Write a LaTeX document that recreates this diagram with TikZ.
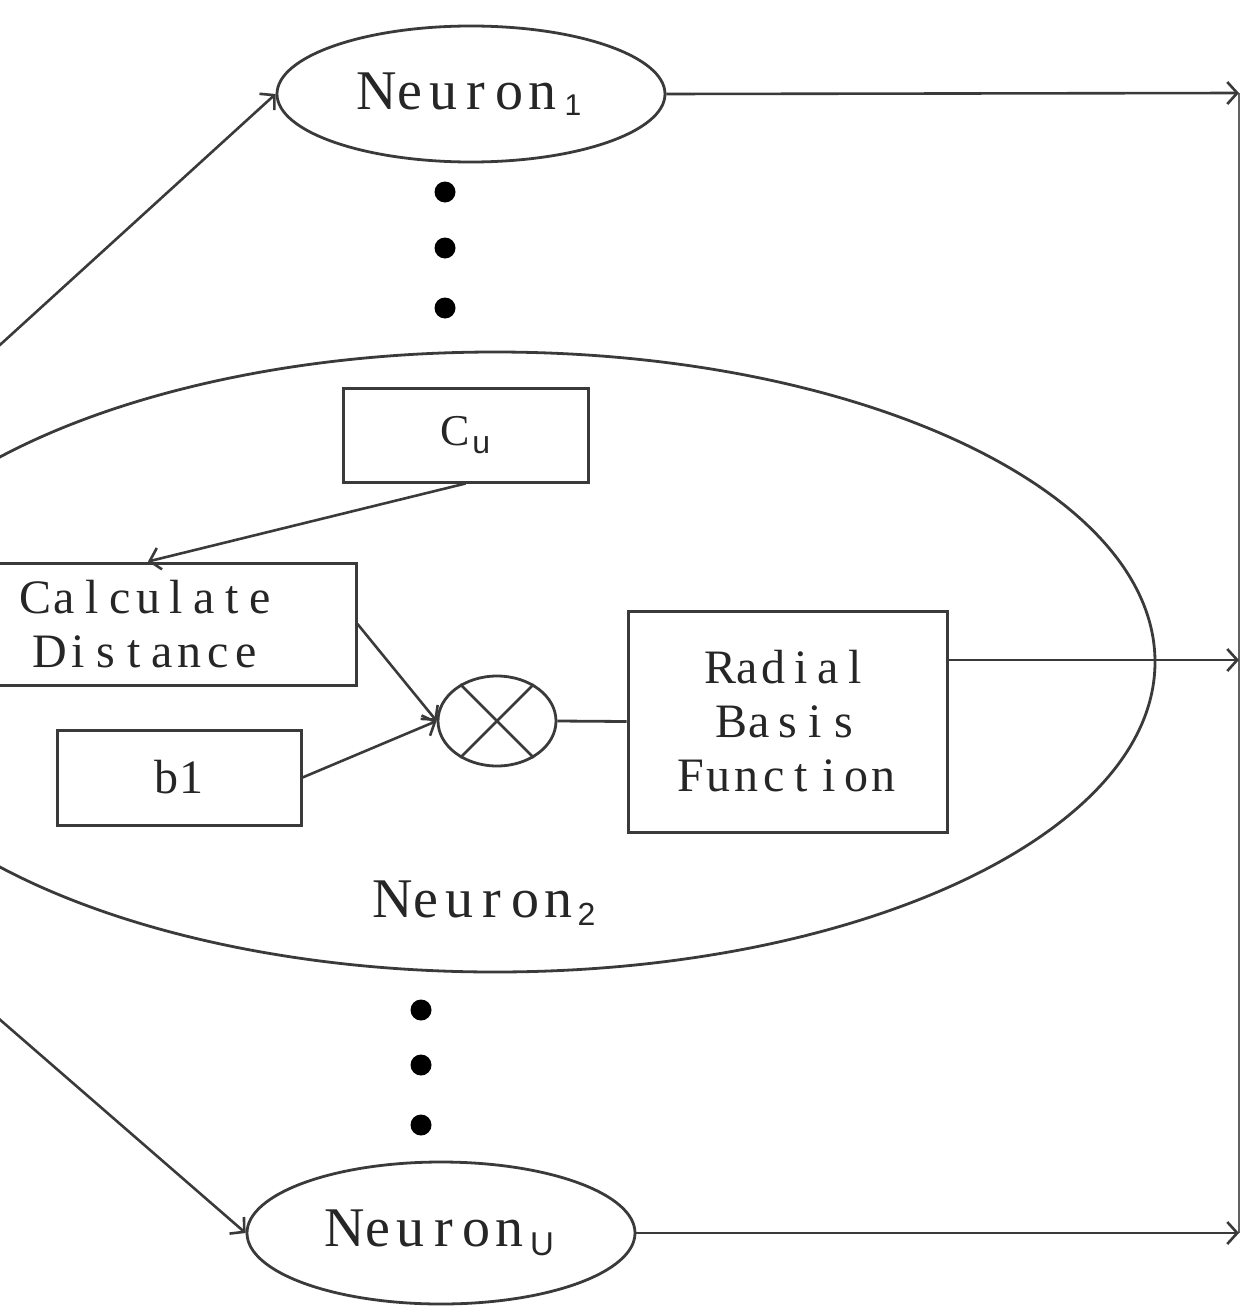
\documentclass[tikz,border=0pt]{standalone}
\usepackage{fontspec}
\setmainfont{Liberation Serif}
\newfontfamily\subsf{Liberation Sans}
\usetikzlibrary{shapes.geometric,arrows.meta}
\makeatletter
\newcommand\mspc[2]{\@tfor\mychr:=#2\do{\makebox[#1][c]{\mychr}}}
\makeatother
\definecolor{lncol}{HTML}{3A3A3A}
\definecolor{txcol}{HTML}{262626}
\begin{document}
\begin{tikzpicture}[x=1pt,y=-1pt,
  every node/.style={text=txcol},
  plainline/.style={draw=lncol, line width=2.8pt},
  thinline/.style={draw=lncol!80, line width=1.6pt},
  box/.style={rectangle, draw=lncol, line width=3pt, inner sep=0pt},
  neu/.style={ellipse, draw=lncol, line width=2.8pt, inner sep=0pt},
  arr/.style={draw=lncol, line width=2.6pt, -{Straight Barb[length=10pt,width=22pt,line width=2.6pt]}},
  bigdot/.style={circle, fill=black, inner sep=0pt, minimum size=21pt},
  lbl/.style={font=\fontsize{56}{60}\selectfont},
  btxt/.style={font=\fontsize{48}{54}\selectfont, align=center},
]
\useasboundingbox (0,0) rectangle (1241,1306);
\clip (0,0) rectangle (1241,1306);

% neurons
\node[neu, lbl, minimum width=388pt, minimum height=136pt] (n1) at (471,94)
  {\mspc{33pt}{Neuron}\hspace{6pt}\raisebox{-6pt}{\subsf\fontsize{30}{30}\selectfont 1}};
\node[neu, minimum width=1320pt, minimum height=620pt] (n2) at (495,662) {};
\node[neu, lbl, minimum width=388pt, minimum height=142pt] (nU) at (441,1233)
  {\mspc{33pt}{Neuron}\hspace{4pt}\raisebox{-9pt}{\subsf\fontsize{33}{33}\selectfont U}};
\node[lbl, anchor=base] (lab2) at (486,917)
  {\mspc{33pt}{Neuron}\hspace{3pt}\raisebox{-8pt}{\subsf\fontsize{32}{32}\selectfont 2}};

% dots
\node[bigdot] (d1) at (445,192) {};
\node[bigdot] (d2) at (445,248) {};
\node[bigdot] (d3) at (445,308) {};
\node[bigdot] (d4) at (421,1010) {};
\node[bigdot] (d5) at (421,1065) {};
\node[bigdot] (d6) at (421,1125) {};

% inner blocks
\node[box, minimum width=245pt, minimum height=94pt, font=\fontsize{44}{48}\selectfont] (cu) at (465.5,435)
  {C\hspace{2pt}\raisebox{-8pt}{\subsf\fontsize{32}{32}\selectfont u}};
\node[box, btxt, minimum width=416pt, minimum height=122pt] (calc) at (148,624)
  {\mspc{28pt}{Calculate}\\\mspc{28pt}{Distance}};
\node[box, btxt, minimum width=244pt, minimum height=95pt] (b1) at (179,777.5)
  {\mspc{26pt}{b1}};
\node[ellipse, draw=lncol, line width=2.8pt, inner sep=0pt, minimum width=118pt, minimum height=90pt] (m) at (497,721) {};
\node[box, btxt, minimum width=319pt, minimum height=221pt] (rbf) at (787.5,721.5)
  {\mspc{27pt}{Radial}\\\mspc{28pt}{Basis}\\\mspc{27.5pt}{Function}};

% free ends
\coordinate (in1) at (-10,354);
\coordinate (in2) at (-10,1011);
\coordinate (o1) at (1239,93);
\coordinate (o2) at (1239,660);
\coordinate (o3) at (1239,1233);

% connectors
\draw[thinline] (o1) -- (o3);
\draw[arr] (in1) -- (n1.west);
\draw[arr] (in2) -- (nU.west);
\draw[arr] (n1.east) -- (o1);
\draw[arr] (nU.east) -- (o3);
\draw[arr] (rbf.east |- o2) -- (o2);
\draw[arr] (cu.south) -- (calc.north);
\draw[arr] (calc.east) -- (m.west);
\draw[arr] (b1.east) -- (m.west);
\draw[plainline] (m.east) -- (rbf.west);
\draw[plainline] (m.45) -- (m.225);
\draw[plainline] (m.135) -- (m.315);
\end{tikzpicture}
\end{document}
